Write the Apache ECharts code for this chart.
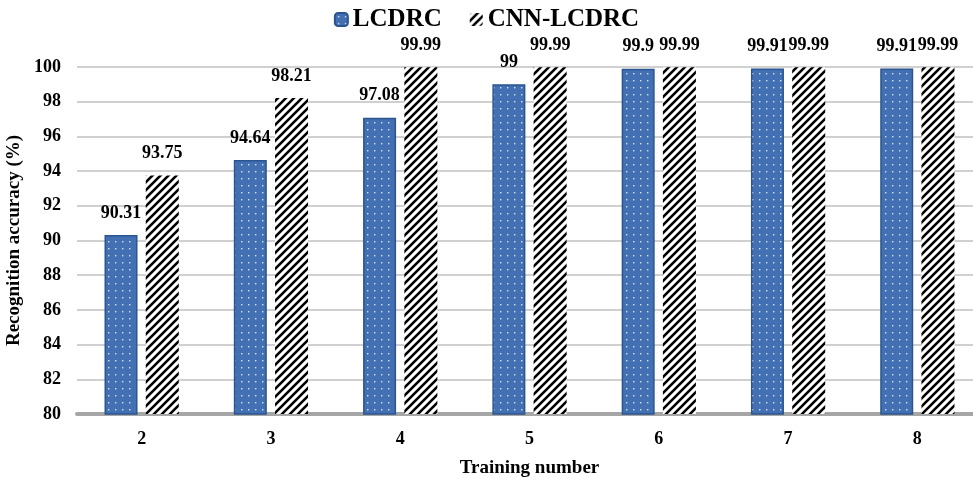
<!DOCTYPE html>
<html>
<head>
<meta charset="utf-8">
<script src="https://cdn.jsdelivr.net/npm/echarts@6/dist/echarts.min.js"></script>
<style>
  html, body { margin: 0; padding: 0; background: #fff; }
  #chart { width: 973px; height: 479px; }
</style>
</head>
<body>
<div id="chart"></div>
<script>
// Training numbers and recognition accuracy (%) per method
const categories = ['2', '3', '4', '5', '6', '7', '8'];
const lcdrc = [90.31, 94.64, 97.08, 99, 99.9, 99.91, 99.91];
const cnnLcdrc = [93.75, 98.21, 99.99, 99.99, 99.99, 99.99, 99.99];
const yTicks = [80, 82, 84, 86, 88, 90, 92, 94, 96, 98, 100];

const FONT = '"Liberation Serif", "Times New Roman", serif';

// Blue fill with small white dots
function dotPattern() {
  const c = document.createElement('canvas');
  c.width = 7; c.height = 7;
  const g = c.getContext('2d');
  g.fillStyle = '#4270b2';
  g.fillRect(0, 0, 7, 7);
  g.fillStyle = 'rgba(230,238,250,0.9)';
  g.fillRect(3, 3, 1.4, 1.4);
  return c;
}

// White fill with heavy black diagonal hatching
function stripePattern() {
  const s = 8;
  const c = document.createElement('canvas');
  c.width = s; c.height = s;
  const g = c.getContext('2d');
  g.fillStyle = '#ffffff';
  g.fillRect(0, 0, s, s);
  g.strokeStyle = '#000000';
  g.lineWidth = 2.6;
  g.beginPath();
  for (let k = -1; k <= 1; k++) {
    g.moveTo(k * s - 1, s + 1);
    g.lineTo(k * s + s + 1, -1);
  }
  g.stroke();
  return c;
}

const labelStyle = {
  show: true,
  position: 'top',
  distance: 13,
  fontFamily: FONT,
  fontWeight: 'bold',
  fontSize: 18,
  color: '#000'
};

const chart = echarts.init(document.getElementById('chart'), null, { renderer: 'canvas' });
chart.setOption({
  animation: false,
  backgroundColor: '#fff',
  legend: {
    top: 2,
    left: 'center',
    itemWidth: 13,
    itemHeight: 13,
    itemGap: 28,
    textStyle: { fontFamily: FONT, fontWeight: 'bold', fontSize: 25, color: '#000' },
    data: ['LCDRC', 'CNN-LCDRC']
  },
  grid: {
    left: 77, width: 905, top: 67, height: 347,
    containLabel: false,
    outerBoundsMode: 'none'
  },
  xAxis: {
    type: 'category',
    data: categories,
    name: 'Training number',
    nameLocation: 'middle',
    nameGap: 45,
    nameTextStyle: { fontFamily: FONT, fontWeight: 'bold', fontSize: 19, color: '#000' },
    axisLine: { show: true, lineStyle: { color: '#a6a6a6', width: 4 } },
    axisTick: { show: false },
    axisLabel: { margin: 16, fontFamily: FONT, fontWeight: 'bold', fontSize: 18, color: '#000' }
  },
  yAxis: {
    type: 'value',
    min: yTicks[0],
    max: yTicks[yTicks.length - 1],
    interval: 2,
    name: 'Recognition accuracy (%)',
    nameLocation: 'middle',
    nameGap: 48,
    nameTextStyle: { fontFamily: FONT, fontWeight: 'bold', fontSize: 19, color: '#000' },
    axisLine: { show: false },
    axisTick: { show: false },
    axisLabel: { margin: 16, fontFamily: FONT, fontWeight: 'bold', fontSize: 18, color: '#000' },
    splitLine: { lineStyle: { color: '#d0d0d0', width: 2 } }
  },
  series: [
    {
      name: 'LCDRC',
      type: 'bar',
      data: lcdrc,
      barWidth: 33,
      barGap: '25%',
      itemStyle: {
        color: { image: dotPattern(), repeat: 'repeat' },
        borderColor: '#2a5590',
        borderWidth: 1.5
      },
      label: labelStyle
    },
    {
      name: 'CNN-LCDRC',
      type: 'bar',
      data: cnnLcdrc,
      barWidth: 33,
      itemStyle: {
        color: { image: stripePattern(), repeat: 'repeat' }
      },
      label: labelStyle
    }
  ]
});
</script>
</body>
</html>
